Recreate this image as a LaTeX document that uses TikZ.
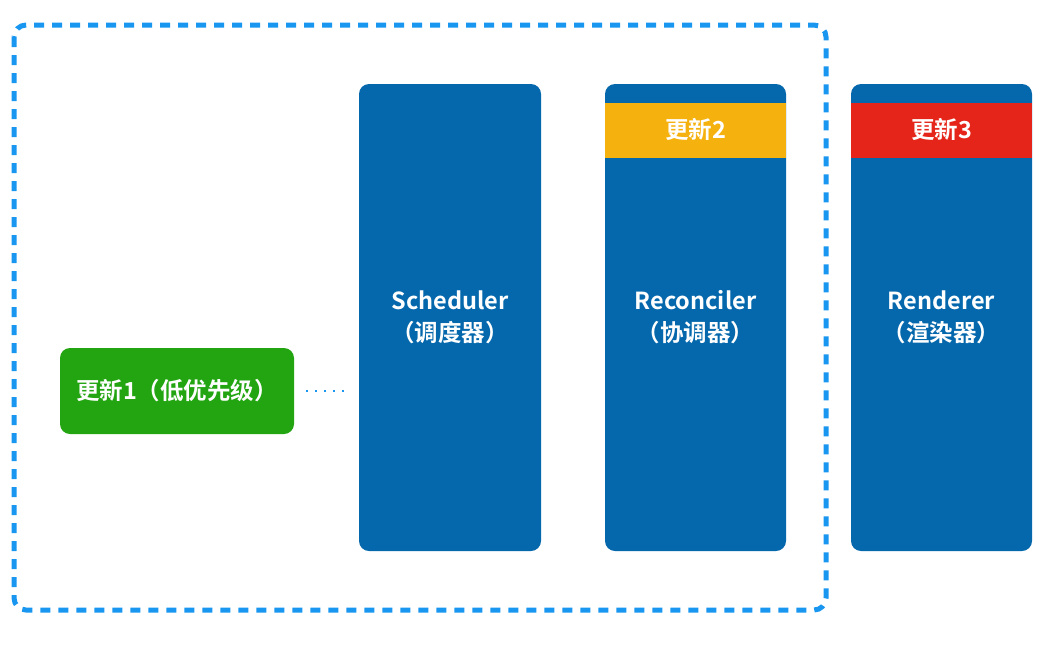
\documentclass[tikz,border=0pt]{standalone}
\usepackage{fontspec}
\setmainfont{Noto Sans CJK SC}[BoldFont=* Bold]
\definecolor{boxblue}{RGB}{5,104,172}
\definecolor{dashblue}{RGB}{24,150,240}
\definecolor{upgreen}{RGB}{34,165,17}
\definecolor{upyellow}{RGB}{245,177,13}
\definecolor{upred}{RGB}{229,37,25}
\tikzset{
  stage/.style={fill=boxblue, rounded corners=10pt},
  band/.style={minimum width=181pt, minimum height=55pt, inner sep=0pt, text=white, font=\fontsize{23.5}{28}\selectfont\bfseries},
  label/.style={text=white, align=center, font=\fontsize{23.5}{32}\selectfont\bfseries},
}
\begin{document}
\begin{tikzpicture}[x=1pt,y=-1pt]
\useasboundingbox (0,0) rectangle (1051,645);
% dashed group
\draw[dashblue, line width=5pt, dash pattern=on 10pt off 8pt, rounded corners=12pt] (14,25) rectangle (826,610);
% stages
\fill[stage] (359,84) rectangle (541,551);
\fill[stage] (605,84) rectangle (786,551);
\fill[stage] (851,84) rectangle (1032,551);
\node[band, fill=upyellow] (u2) at (695.5,130) {更新2};
\node[band, fill=upred] (u3) at (941.5,130) {更新3};
\node[label] (sch) at (450,317) {Scheduler\\（调度器）};
\node[label] (rec) at (695.5,317) {Reconciler\\（协调器）};
\node[label] (ren) at (941.5,317) {Renderer\\（渲染器）};
\node[fill=upgreen, rounded corners=10pt, minimum width=234pt, minimum height=86pt, text=white, font=\fontsize{23.5}{28}\selectfont\bfseries, inner sep=0pt] (u1) at (177,391) {更新1（低优先级）};
\coordinate (schL) at (359,391);
\draw[dashblue, line width=2pt, dash pattern=on 2pt off 7pt] (u1.east) ++(12,0) -- ([xshift=-10pt]schL);
\end{tikzpicture}
\end{document}
